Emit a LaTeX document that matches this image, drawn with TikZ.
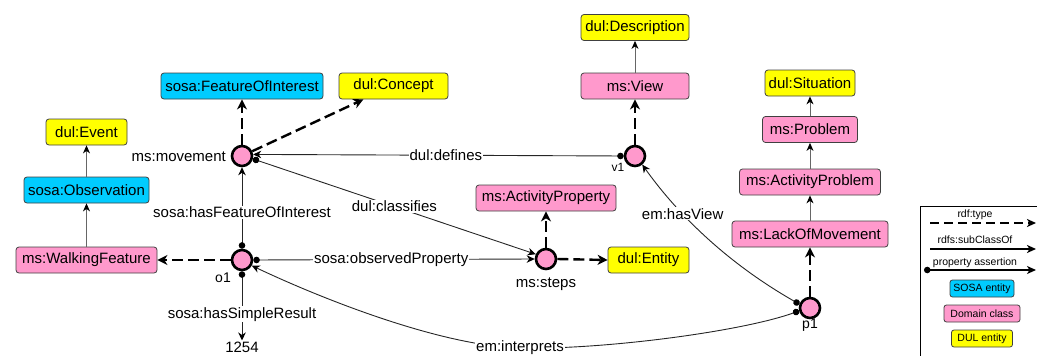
\documentclass[tikz,border=0pt]{standalone}
\usepackage{fontspec}
\setmainfont{Liberation Sans}
\usetikzlibrary{arrows.meta}
\definecolor{sosac}{HTML}{00CCFF}
\definecolor{domc}{HTML}{FF99CC}
\definecolor{dulc}{HTML}{FFFF00}
\begin{document}
\begin{tikzpicture}[x=1pt,y=-1pt,
  font=\fontsize{15}{18}\selectfont,
  box/.style={draw=black!75, line width=0.8pt, rounded corners=3pt, minimum height=26pt, inner sep=2pt},
  sosa/.style={box, fill=sosac},
  dom/.style={box, fill=domc},
  dulb/.style={box, fill=dulc},
  ind/.style={circle, draw=black, line width=2.6pt, fill=domc, minimum size=20pt, inner sep=0pt},
  rdftype/.style={line width=2.4pt, dash pattern=on 11pt off 5pt, -{Stealth[length=10pt,width=10pt,inset=3pt]}},
  subcl/.style={line width=0.9pt, draw=black!60, -{Stealth[length=8pt,width=7pt,inset=2.5pt,color=black]}},
  prop/.style={line width=0.9pt, draw=black!85, {Circle[length=6.5pt,color=black]}-{Stealth[length=8pt,width=7.5pt,inset=2.5pt,color=black]}},
  lbl/.style={fill=white, inner sep=1pt},
  lgd/.style={font=\fontsize{10.5}{12}\selectfont, inner sep=1pt},
  lgdbox/.style={font=\fontsize{10.5}{12}\selectfont, minimum height=17pt, rounded corners=2.5pt, inner sep=1pt},
]
\useasboundingbox (0,0) rectangle (1037,356);
\clip (0,0) rectangle (1037,356);

% class boxes
\node[dulb, minimum width=81pt] (ev) at (86.5,132) {dul:Event};
\node[sosa, minimum width=125pt] (obs) at (86.5,190) {sosa:Observation};
\node[dom, minimum width=141pt] (wf) at (86.5,260) {ms:WalkingFeature};
\node[sosa, minimum width=162pt] (foi) at (242,86) {sosa:FeatureOfInterest};
\node[dulb, minimum width=109pt] (con) at (393.5,86) {dul:Concept};
\node[dulb, minimum width=108pt] (desc) at (635,27.5) {dul:Description};
\node[dom, minimum width=108pt] (view) at (635,86) {ms:View};
\node[dom, minimum width=140pt] (ap) at (546,198) {ms:ActivityProperty};
\node[dulb, minimum width=81pt] (ent) at (648.5,260) {dul:Entity};
\node[dulb, minimum width=90pt] (sit) at (810,83) {dul:Situation};
\node[dom, minimum width=95pt] (prob) at (810,129.5) {ms:Problem};
\node[dom, minimum width=141pt] (actp) at (810,182) {ms:ActivityProblem};
\node[dom, minimum width=156pt] (lom) at (810,234) {ms:LackOfMovement};

% individuals
\node[ind] (mov) at (242,156) {};
\node[ind] (o1) at (242,260) {};
\node[ind] (v1) at (635,156) {};
\node[ind] (steps) at (546,259) {};
\node[ind] (p1) at (810,308) {};

\node[anchor=east, inner sep=1pt] (movl) at (227,157) {ms:movement};
\node[font=\fontsize{14}{16}\selectfont, inner sep=1pt] (o1l) at (223,278) {o1};
\node[font=\fontsize{12}{14}\selectfont, inner sep=1pt] (v1l) at (618,167) {v1};
\node[inner sep=1pt] (stepsl) at (546,284) {ms:steps};
\node[font=\fontsize{14}{16}\selectfont, inner sep=1pt] (p1l) at (810,325) {p1};
\node[anchor=north, inner sep=1pt] (res) at (242,340.5) {1254};

% subclass edges
\draw[subcl] (wf) -- (obs);
\draw[subcl] (obs) -- (ev);
\draw[subcl] (view) -- (desc);
\draw[subcl] (lom) -- (actp);
\draw[subcl] (actp) -- (prob);
\draw[subcl] (prob) -- (sit);

% rdf:type edges
\draw[rdftype] (o1.west) -- (wf.east);
\draw[rdftype] (mov.north) -- (foi.south);
\draw[rdftype] (mov) -- (con.204);
\draw[rdftype] (steps.north) -- (ap.south);
\draw[rdftype] (steps.east) -- (ent.west);
\draw[rdftype] (v1.north) -- (view.south);
\draw[rdftype] (p1.north) -- (lom.south);

% property assertions
\draw[prop] (o1.north) -- node[lbl, pos=0.45] {sosa:hasFeatureOfInterest} (mov.south);
\draw[prop] (o1.east) -- node[lbl, pos=0.49] {sosa:observedProperty} (steps.west);
\draw[prop] (o1.south) -- node[lbl, pos=0.62] {sosa:hasSimpleResult} (res.north);
\draw[prop] (v1.west) -- node[lbl, pos=0.48] {dul:defines} (mov.8);
\draw[prop] (mov.-15) -- node[lbl, pos=0.5] {dul:classifies} (steps.155);
\draw[prop] (p1.160) .. controls (736,268) and (684,223) .. node[lbl, pos=0.7] {em:hasView} (v1.-50);
\draw[prop] (p1.195) .. controls (740,332) and (600,350) .. (520,348)
  node[lbl] {em:interprets}
  .. controls (440,346) and (320,298) .. (o1.-30);

% legend
\draw[line width=0.8pt] (920,206) rectangle (1045,370);
\coordinate (la1) at (930,223); \coordinate (lb1) at (1036,223);
\coordinate (la2) at (930,249); \coordinate (lb2) at (1036,249);
\coordinate (la3) at (924,270); \coordinate (lb3) at (1036,270);
\draw[line width=2pt, dash pattern=on 9pt off 5pt, -{Stealth[length=9pt,width=8pt,inset=2.5pt]}] (la1) -- (lb1);
\draw[line width=2pt, -{Stealth[length=9pt,width=8pt,inset=2.5pt]}] (la2) -- (lb2);
\draw[line width=1.4pt, {Circle[length=6.5pt]}-{Stealth[length=9pt,width=8pt,inset=2.5pt]}] (la3) -- (lb3);
\node[lgd] (lt1) at (975,215) {rdf:type};
\node[lgd] (lt2) at (975,240) {rdfs:subClassOf};
\node[lgd, fill=white] (lt3) at (975,263) {property assertion};
\node[sosa, lgdbox, minimum width=64pt] (ls) at (982,288.5) {SOSA entity};
\node[dom, lgdbox, minimum width=76pt] (ld) at (982,313.5) {Domain class};
\node[dulb, lgdbox, minimum width=61pt] (lu) at (982,338.5) {DUL entity};
\end{tikzpicture}
\end{document}
